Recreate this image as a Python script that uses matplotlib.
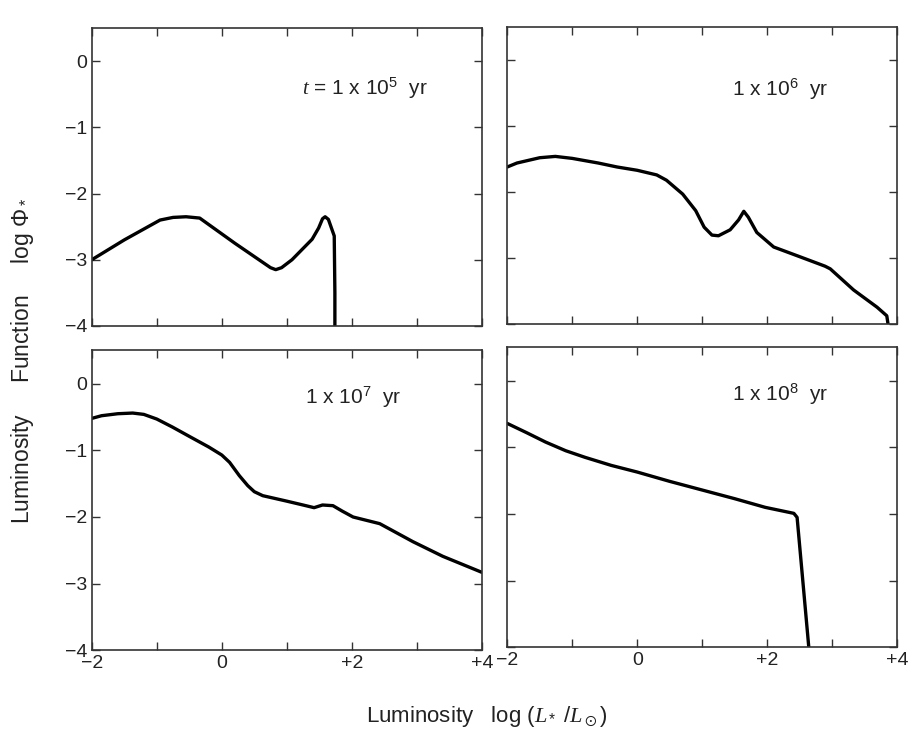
import matplotlib.pyplot as plt
from matplotlib.ticker import MultipleLocator, FixedLocator

plt.rcParams['font.family'] = ['Liberation Sans', 'DejaVu Sans']
plt.rcParams['mathtext.fontset'] = 'custom'
plt.rcParams['mathtext.rm'] = 'Liberation Sans'
plt.rcParams['mathtext.it'] = 'Liberation Serif:italic'
plt.rcParams['mathtext.fallback'] = 'stix'

# t = 1e5 yr
x_1e5 = [-2.0, -1.5, -0.95, -0.75, -0.55, -0.34, 0.2, 0.75, 0.83, 0.92, 1.08, 1.28, 1.39, 1.49, 1.55, 1.59, 1.64, 1.73, 1.74, 1.74]
y_1e5 = [-3.0, -2.70, -2.40, -2.36, -2.35, -2.37, -2.75, -3.12, -3.15, -3.12, -3.0, -2.80, -2.69, -2.52, -2.38, -2.35, -2.39, -2.64, -3.5, -4.0]

# t = 1e6 yr
x_1e6 = [-2.0, -1.85, -1.5, -1.26, -1.0, -0.6, -0.31, 0.0, 0.30, 0.45, 0.7, 0.9, 1.03, 1.15, 1.25, 1.43, 1.56, 1.64, 1.71, 1.84, 2.10, 2.51, 2.89, 2.97, 3.33, 3.69, 3.84, 3.86]
y_1e6 = [-1.62, -1.56, -1.48, -1.46, -1.49, -1.56, -1.62, -1.67, -1.74, -1.82, -2.03, -2.28, -2.53, -2.65, -2.66, -2.57, -2.42, -2.29, -2.38, -2.61, -2.83, -2.98, -3.12, -3.16, -3.48, -3.74, -3.87, -4.0]

# t = 1e7 yr
x_1e7 = [-2.0, -1.85, -1.6, -1.37, -1.2, -1.0, -0.76, -0.5, -0.2, 0.0, 0.12, 0.27, 0.4, 0.5, 0.63, 0.99, 1.25, 1.42, 1.55, 1.71, 1.85, 2.02, 2.43, 2.94, 3.40, 4.0]
y_1e7 = [-0.52, -0.48, -0.45, -0.44, -0.46, -0.53, -0.65, -0.79, -0.95, -1.07, -1.18, -1.38, -1.53, -1.62, -1.68, -1.76, -1.82, -1.86, -1.82, -1.83, -1.91, -2.0, -2.10, -2.37, -2.59, -2.83]

# t = 1e8 yr
x_1e8 = [-2.0, -1.7, -1.41, -1.1, -0.8, -0.4, 0.0, 0.5, 1.0, 1.5, 1.97, 2.41, 2.46, 2.64]
y_1e8 = [-0.64, -0.78, -0.92, -1.05, -1.15, -1.27, -1.37, -1.51, -1.64, -1.77, -1.90, -1.99, -2.05, -4.0]

panels = [
    (x_1e5, y_1e5, r'$t$ = 1 x 10$^5$  yr', (1.23, -0.41)),
    (x_1e6, y_1e6, r'1 x 10$^6$  yr', (1.46, -0.44)),
    (x_1e7, y_1e7, r'1 x 10$^7$  yr', (1.28, -0.20)),
    (x_1e8, y_1e8, r'1 x 10$^8$  yr', (1.46, -0.20)),
]

fig = plt.figure(figsize=(9.09, 7.44), dpi=100)
rects = [
    [0.101, 0.562, 0.429, 0.400],
    [0.558, 0.564, 0.429, 0.400],
    [0.101, 0.126, 0.429, 0.403],
    [0.558, 0.130, 0.429, 0.403],
]

for i, (xs, ys, label, pos) in enumerate(panels):
    ax = fig.add_axes(rects[i])
    ax.plot(xs, ys, color='black', lw=2.4, solid_joinstyle='round', solid_capstyle='round')
    ax.set_xlim(-2, 4)
    ax.set_ylim(-4, 0.5)
    ax.xaxis.set_major_locator(FixedLocator([-2, 0, 2, 4]))
    ax.xaxis.set_minor_locator(FixedLocator([-1, 1, 3]))
    ax.yaxis.set_major_locator(MultipleLocator(1))
    ax.tick_params(which='both', direction='in', top=True, right=True,
                   length=6, width=1, labelsize=14, color='#333333',
                   labelcolor='#222222')
    for s in ax.spines.values():
        s.set_linewidth(1.2)
        s.set_color('#333333')
    if i >= 2:
        ax.set_xticklabels(['\u22122', '0', '+2', '+4'])
    else:
        ax.set_xticklabels([])
    if i % 2 == 0:
        ax.set_yticks([0, -1, -2, -3, -4])
        ax.set_yticklabels(['0', '\u22121', '\u22122', '\u22123', '\u22124'])
    else:
        ax.set_yticklabels([])
    ax.text(pos[0], pos[1], label, fontsize=15, va='center', ha='left', color='#222222')

fig.text(0.535, 0.037, r'Luminosity   log ($L_*$ /$L_\odot$)', fontsize=16,
         ha='center', va='center', color='#222222')
fig.text(0.025, 0.515, r'Luminosity     Function     log $\Phi_*$', fontsize=16.5,
         ha='center', va='center', rotation=90, color='#222222')

plt.savefig('out.png', dpi=100)
